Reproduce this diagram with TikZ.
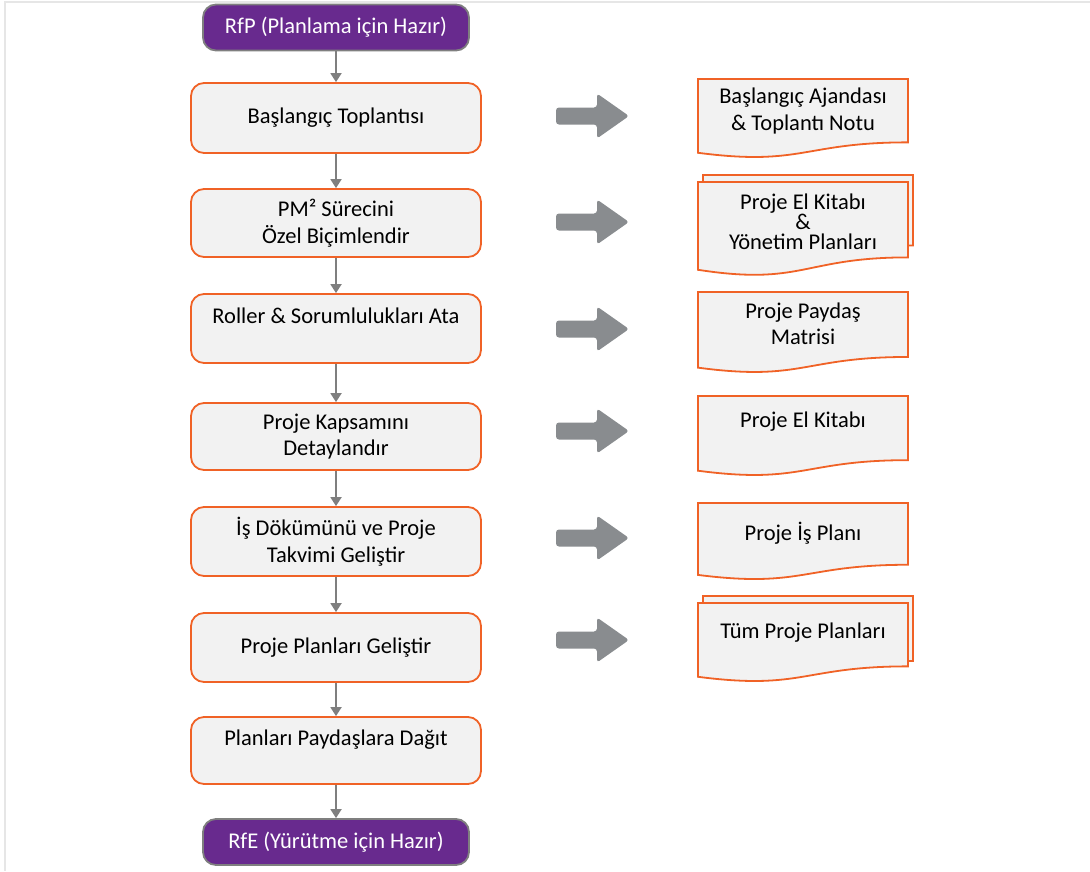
\documentclass[tikz,border=0pt]{standalone}
\usepackage{fontspec}
\setmainfont{Carlito}
\usetikzlibrary{arrows.meta}

\definecolor{pmorange}{RGB}{240,98,38}
\definecolor{pmpurple}{RGB}{104,42,142}
\definecolor{pmfill}{RGB}{242,242,242}
\definecolor{pmgray}{RGB}{127,127,127}
\definecolor{pmarrow}{RGB}{137,140,143}
\definecolor{pmframe}{RGB}{230,230,230}

% document shape with a wavy bottom: left x, top y, height
\newcommand{\docpath}[3]{%
  \draw[docline] (#1,#2) -- ({#1+210},#2) -- ({#1+210},{#2+0.802*#3})
    .. controls ({#1+105},{#2+0.802*#3}) and ({#1+105},{#2+1.107*#3}) .. ({#1},{#2+0.934*#3}) -- cycle;}

% broad grey arrow centred on y
\newcommand{\blockarrow}[1]{%
  \fill[pmarrow, rounded corners=3pt] (556,{#1-8.5}) -- (597,{#1-8.5}) -- (597,{#1-22.5})
    -- (629,#1) -- (597,{#1+22.5}) -- (597,{#1+8.5}) -- (556,{#1+8.5}) -- cycle;}

\tikzset{
  txt/.style={font=\fontsize{22.5}{26.5}\selectfont, align=center, text=black},
  term/.style={txt, draw=pmgray, line width=1.8pt, fill=pmpurple, text=white,
    rounded corners=13pt, minimum width=266pt, minimum height=46pt, inner sep=0pt},
  proc/.style={txt, draw=pmorange, line width=1.8pt, fill=pmfill,
    rounded corners=13pt, minimum width=290pt, inner sep=0pt},
  docline/.style={draw=pmorange, line width=1.8pt, fill=pmfill},
  doctext/.style={txt, inner sep=0pt},
  flow/.style={draw=pmgray, line width=1.8pt, -{Triangle[length=9pt,width=11pt]}},
}

\begin{document}
\begin{tikzpicture}[x=1pt,y=-1pt]
\useasboundingbox (0,0) rectangle (1090,871);
% thin frame lines
\draw[pmframe, line width=2pt] (4.5,871) -- (4.5,2) -- (1090,2);

% process column
\node[term] (rfp) at (336,27.5) {RfP (Planlama için Hazır)};
\node[proc, minimum height=70pt] (b1) at (336,118) {Başlangıç Toplantısı};
\node[proc, minimum height=68pt] (b2) at (336,223) {PM² Sürecini\\Özel Biçimlendir};
\node[proc, minimum height=69pt] (b3) at (336,328.5) {Roller \& Sorumlulukları Ata\\\mbox{}};
\node[proc, minimum height=67pt] (b4) at (336,436.5) {Proje Kapsamını\\Detaylandır};
\node[proc, minimum height=69pt] (b5) at (336,541.5) {İş Dökümünü ve Proje\\Takvimi Geliştir};
\node[proc, minimum height=69pt] (b6) at (336,647.5) {Proje Planları Geliştir};
\node[proc, minimum height=67pt] (b7) at (336,750.5) {Planları Paydaşlara Dağıt\\\mbox{}};
\node[term] (rfe) at (336,842) {RfE (Yürütme için Hazır)};

\draw[flow] (rfp) -- (b1);
\draw[flow] (b1) -- (b2);
\draw[flow] (b2) -- (b3);
\draw[flow] (b3) -- (b4);
\draw[flow] (b4) -- (b5);
\draw[flow] (b5) -- (b6);
\draw[flow] (b6) -- (b7);
\draw[flow] (b7) -- (rfe);

% grey output arrows
\blockarrow{116}
\blockarrow{222}
\blockarrow{329}
\blockarrow{431}
\blockarrow{538}
\blockarrow{640}

% output documents
\docpath{698}{79}{79}
\node[doctext] (d1) at (803,111) {Başlangıç Ajandası\\\& Toplantı Notu};

\docpath{703}{175}{88}
\docpath{698}{182}{94}
\node[doctext, font=\fontsize{22.5}{20}\selectfont] (d2) at (803,222) {Proje El Kitabı\\\&\\Yönetim Planları};

\docpath{698}{292}{81}
\node[doctext] (d3) at (803,324) {Proje Paydaş\\Matrisi};

\docpath{698}{396}{80}
\node[doctext] (d4) at (803,422) {Proje El Kitabı};

\docpath{698}{503}{77}
\node[doctext] (d5) at (803,533) {Proje İş Planı};

\docpath{703}{596}{81}
\docpath{698}{603}{79}
\node[doctext] (d6) at (803,633) {Tüm Proje Planları};
\end{tikzpicture}
\end{document}
